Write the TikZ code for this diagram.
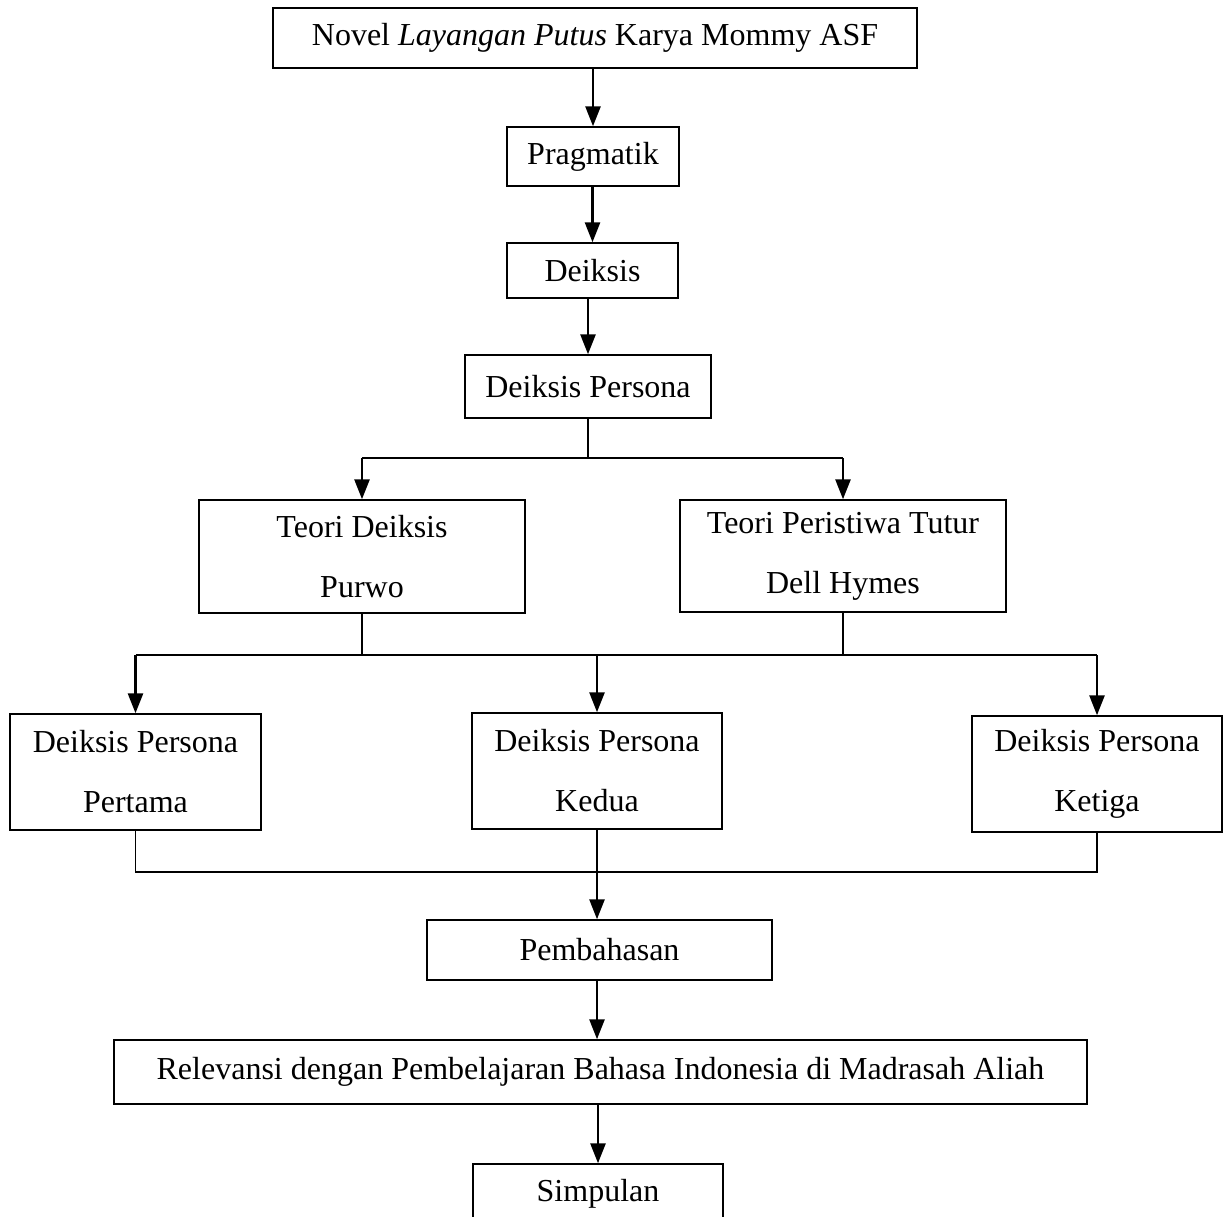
\documentclass[tikz,border=0pt]{standalone}
\usepackage{fontspec}
\setmainfont{Liberation Serif}
\usetikzlibrary{arrows.meta}

\begin{document}
\begin{tikzpicture}[x=1pt, y=-1pt,
        box/.style={draw, line width=1.4pt, inner sep=0pt, align=center, font=\fontsize{32}{60}\selectfont},
        arr/.style={line width=2.6pt, -{Triangle[width=15pt,length=20pt]}},
        branch/.style={line width=1.6pt}]
        % Fix the frame of the chart
        \clip (0,0) rectangle (1227,1217);
        \fill[white] (0,0) rectangle (1227,1217);

        % Draw the boxes of the main line
        \node[box, minimum width=644pt, minimum height=60pt] (novel) at (595,38) {Novel \textit{Layangan Putus} Karya Mommy ASF};
        \node[box, minimum width=172pt, minimum height=59pt] (prag) at (593,156.5) {Pragmatik};
        \node[box, minimum width=171pt, minimum height=55pt] (deiksis) at (592.5,270.5) {Deiksis};
        \node[box, minimum width=246pt, minimum height=63pt] (persona) at (588,386.5) {Deiksis Persona};

        % Draw the two theories
        \node[box, minimum width=326pt, minimum height=113pt] (purwo) at (362,556.5) {Teori Deiksis\\Purwo};
        \node[box, minimum width=326pt, minimum height=112pt] (hymes) at (843,556) {Teori Peristiwa Tutur\\Dell Hymes};

        % Draw the three kinds of persona
        \node[box, minimum width=251pt, minimum height=116pt] (pertama) at (135.5,772) {Deiksis Persona\\Pertama};
        \node[box, minimum width=250pt, minimum height=116pt] (kedua) at (597,771) {Deiksis Persona\\Kedua};
        \node[box, minimum width=250pt, minimum height=116pt] (ketiga) at (1097,774) {Deiksis Persona\\Ketiga};

        % Draw the last steps
        \node[box, minimum width=345pt, minimum height=60pt] (bahas) at (599.5,950) {Pembahasan};
        \node[box, minimum width=973pt, minimum height=64pt] (relevansi) at (600.5,1072) {Relevansi dengan Pembelajaran Bahasa Indonesia di Madrasah Aliah};
        \node[box, minimum width=250pt, minimum height=60pt] (simpulan) at (598,1194) {Simpulan};

        % Arrows of the main line
        \draw[arr] (novel.south -| prag.north) -- (prag.north);
        \draw[arr] (prag.south -| deiksis.north) -- (deiksis.north);
        \draw[arr] (deiksis.south -| persona.north) -- (persona.north);

        % Split to the two theories
        \coordinate (split1) at (0,458);
        \draw[branch] (persona.south) -- (persona.south |- split1);
        \draw[branch] (purwo.north |- split1) -- (hymes.north |- split1);
        \draw[arr] (purwo.north |- split1) -- (purwo.north);
        \draw[arr] (hymes.north |- split1) -- (hymes.north);

        % Split to the three kinds of persona
        \coordinate (split2) at (0,655);
        \draw[branch] (purwo.south) -- (purwo.south |- split2);
        \draw[branch] (hymes.south) -- (hymes.south |- split2);
        \draw[branch] (pertama.north |- split2) -- (ketiga.north |- split2);
        \foreach \n in {pertama,kedua,ketiga}
            \draw[arr] (\n.north |- split2) -- (\n.north);

        % Join them again
        \coordinate (merge) at (0,872);
        \draw[branch] (pertama.south) -- (pertama.south |- merge) -- (ketiga.south |- merge) -- (ketiga.south);
        \draw[arr] (kedua.south) -- (kedua.south |- bahas.north);
        \draw[arr] (bahas.south -| kedua.south) -- (relevansi.north -| kedua.south);
        \draw[arr] (relevansi.south -| simpulan.north) -- (simpulan.north);
    \end{tikzpicture}
\end{document}
